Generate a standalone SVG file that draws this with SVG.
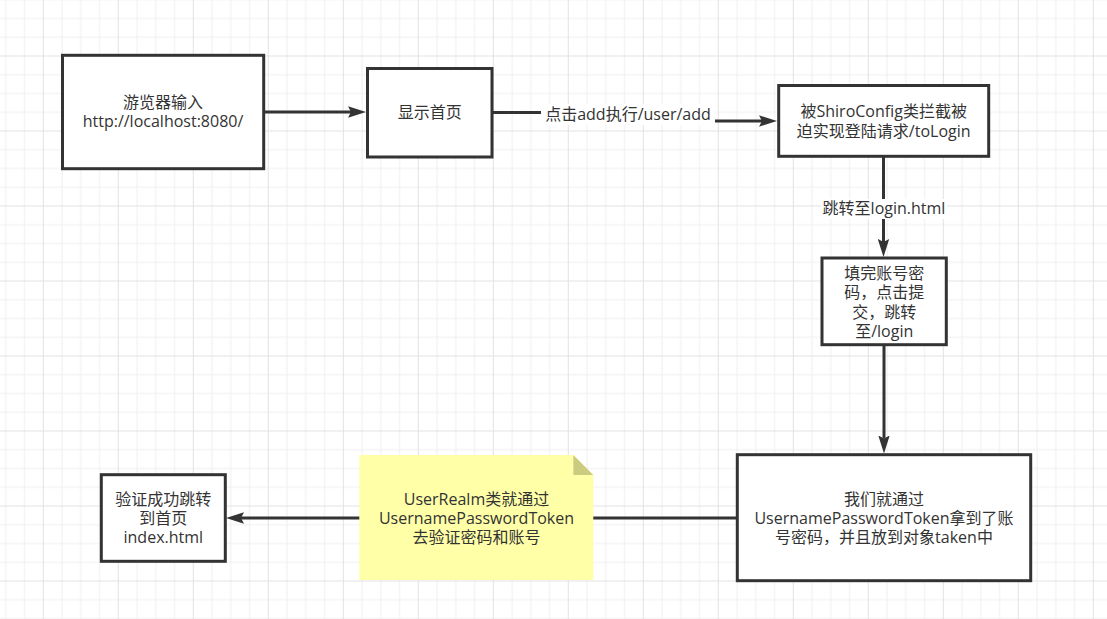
<svg xmlns="http://www.w3.org/2000/svg" width="1107" height="619" viewBox="0 0 1107 619">
<style>
.box{fill:#ffffff;stroke:#333333;stroke-width:3}
.t{font-family:"Open Sans","Noto Sans CJK SC",sans-serif;font-size:16px;fill:#333333;text-anchor:middle}
.edge{fill:none;stroke:#333333;stroke-width:3}
.lbg{fill:#ffffff}
</style>
<defs>
<pattern id="grid" patternUnits="userSpaceOnUse" x="-32.2" y="-19.5" width="75" height="75">
<path d="M19.25,0V75M38,0V75M56.75,0V75M0,19.25H75M0,38H75M0,56.75H75" stroke="#efefef" stroke-width="1" fill="none"/>
<path d="M0.5,0V75M0,0.5H75" stroke="#e2e2e2" stroke-width="1" fill="none"/>
</pattern>
<marker id="arr" viewBox="0 0 18 12" refX="3" refY="6" markerWidth="18" markerHeight="12" markerUnits="userSpaceOnUse" orient="auto">
<path d="M0,0.3L18,6L0,11.7L3,6Z" fill="#333333"/>
</marker>
</defs>
<rect x="0" y="0" width="1107" height="619" fill="#ffffff"/>
<rect x="0" y="0" width="1107" height="619" fill="url(#grid)"/>
<g id="connectors">
<path class="edge" d="M264,112H351" marker-end="url(#arr)"/>
<path class="edge" d="M492,112.5H628V121H762" marker-end="url(#arr)"/>
<path class="edge" d="M883.5,157V242" marker-end="url(#arr)"/>
<path class="edge" d="M884,345V438.5" marker-end="url(#arr)"/>
<path class="edge" d="M737,518H241" marker-end="url(#arr)"/>
<rect class="lbg" x="541" y="104" width="174" height="21"/>
<text class="t" x="628" y="120">点击add执行/user/add</text>
<rect class="lbg" x="821" y="199" width="126" height="20"/>
<text class="t" x="884" y="214">跳转至login.html</text>
</g>
<g id="n1">
<rect class="box" x="62.5" y="55.3" width="201.2" height="113.4"/>
<text class="t"><tspan x="163" y="108">游览器输入</tspan><tspan x="163" y="127">http://localhost:8080/</tspan></text>
</g>
<g id="n2">
<rect class="box" x="367.5" y="68.5" width="124.5" height="88.5"/>
<text class="t" x="429.7" y="118">显示首页</text>
</g>
<g id="n3">
<rect class="box" x="778.7" y="85.5" width="210" height="70.8"/>
<text class="t"><tspan x="883.7" y="117">被ShiroConfig类拦截被</tspan><tspan x="883.7" y="136.5">迫实现登陆请求/toLogin</tspan></text>
</g>
<g id="n4">
<rect class="box" x="822" y="258" width="124.3" height="86.7"/>
<text class="t"><tspan x="884.2" y="278.5">填完账号密</tspan><tspan x="884.2" y="298">码，点击提</tspan><tspan x="884.2" y="317.5">交，跳转</tspan><tspan x="884.2" y="337">至/login</tspan></text>
</g>
<g id="n5">
<rect class="box" x="737.3" y="454.7" width="293.4" height="126"/>
<text class="t"><tspan x="884" y="504.5">我们就通过</tspan><tspan x="884" y="523.5">UsernamePasswordToken拿到了账</tspan><tspan x="884" y="542.5">号密码，并且放到对象taken中</tspan></text>
</g>
<g id="note">
<path d="M359.3,455H573.3L593.3,475V580H359.3Z" fill="#ffffa8"/>
<path d="M573.3,455L593.3,475H573.3Z" fill="#cccc80"/>
<text class="t"><tspan x="476.5" y="504.5">UserRealm类就通过</tspan><tspan x="476.5" y="523.5">UsernamePasswordToken</tspan><tspan x="476.5" y="542.5">去验证密码和账号</tspan></text>
</g>
<g id="n6">
<rect class="box" x="101.3" y="474.7" width="124" height="86.6"/>
<text class="t"><tspan x="163.3" y="504.5">验证成功跳转</tspan><tspan x="163.3" y="523.5">到首页</tspan><tspan x="163.3" y="542.5">index.html</tspan></text>
</g>
</svg>
